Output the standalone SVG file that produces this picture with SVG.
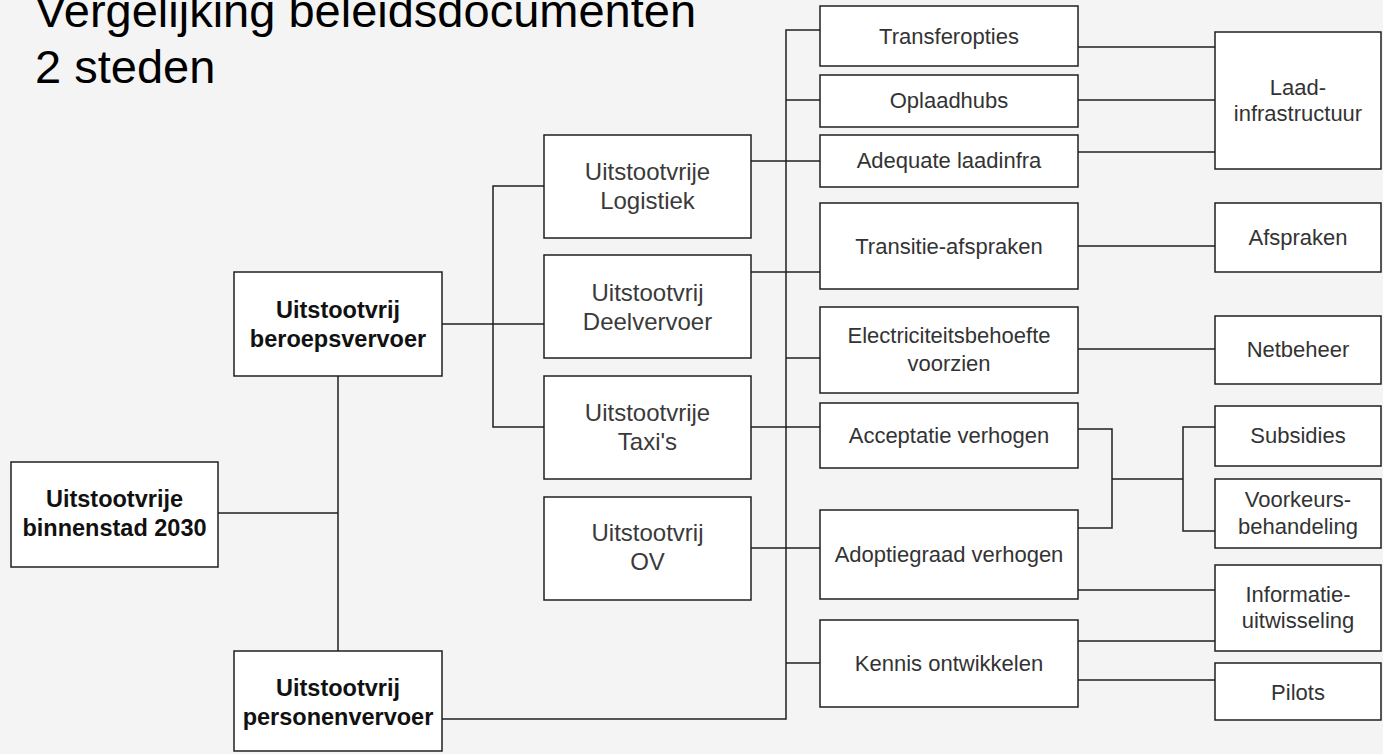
<svg xmlns="http://www.w3.org/2000/svg" width="1383" height="754" viewBox="0 0 1383 754">
<style>
.bg{fill:#f4f4f4}
.box{fill:#ffffff;stroke:#1f1f1f;stroke-width:1.5}
.ln{fill:none;stroke:#1f1f1f;stroke-width:1.5}
.t{font-family:"Liberation Sans",Arial,sans-serif;font-size:22px;fill:#333333;text-anchor:middle}
.tm{font-family:"Liberation Sans",Arial,sans-serif;font-size:24px;fill:#3a3a3a;text-anchor:middle}
.tb{font-family:"Liberation Sans",Arial,sans-serif;font-size:23.5px;font-weight:bold;fill:#111111;text-anchor:middle}
.title{font-family:"Liberation Sans",Arial,sans-serif;font-size:47px;fill:#000000}
</style>
<rect class="bg" x="0" y="0" width="1383" height="754"/>
<g id="title">
<text class="title" x="35" y="27">Vergelijking beleidsdocumenten</text>
<text class="title" x="35" y="83">2 steden</text>
</g>
<g id="connectors">
<path class="ln" d="M218,513 H338"/>
<path class="ln" d="M338,376 V651"/>
<path class="ln" d="M442,324 H544"/>
<path class="ln" d="M544,186 H493 V427 H544"/>
<path class="ln" d="M751,161 H820"/>
<path class="ln" d="M751,272 H820"/>
<path class="ln" d="M751,427 H820"/>
<path class="ln" d="M751,548 H820"/>
<path class="ln" d="M442,719 H786 V30 H820"/>
<path class="ln" d="M786,100 H820"/>
<path class="ln" d="M786,358 H820"/>
<path class="ln" d="M786,663 H820"/>
<path class="ln" d="M1078,47 H1215"/>
<path class="ln" d="M1078,100 H1215"/>
<path class="ln" d="M1078,152 H1215"/>
<path class="ln" d="M1078,246 H1215"/>
<path class="ln" d="M1078,349 H1215"/>
<path class="ln" d="M1078,429 H1112 V528 H1078"/>
<path class="ln" d="M1112,479 H1183"/>
<path class="ln" d="M1215,427 H1183 V531 H1215"/>
<path class="ln" d="M1078,590 H1215"/>
<path class="ln" d="M1078,641 H1215"/>
<path class="ln" d="M1078,680 H1215"/>
</g>
<g id="n-binnenstad"><rect class="box" x="11" y="462" width="207" height="105"/><text class="tb" x="114.5" y="507">Uitstootvrije</text><text class="tb" x="114.5" y="536">binnenstad 2030</text></g>
<g id="n-beroeps"><rect class="box" x="234" y="272" width="208" height="104"/><text class="tb" x="338" y="318">Uitstootvrij</text><text class="tb" x="338" y="347">beroepsvervoer</text></g>
<g id="n-personen"><rect class="box" x="234" y="651" width="208" height="100"/><text class="tb" x="338" y="696">Uitstootvrij</text><text class="tb" x="338" y="725">personenvervoer</text></g>
<g id="n-logistiek"><rect class="box" x="544" y="135" width="207" height="103"/><text class="tm" x="647.5" y="180">Uitstootvrije</text><text class="tm" x="647.5" y="209">Logistiek</text></g>
<g id="n-deelvervoer"><rect class="box" x="544" y="255" width="207" height="103"/><text class="tm" x="647.5" y="301">Uitstootvrij</text><text class="tm" x="647.5" y="330">Deelvervoer</text></g>
<g id="n-taxis"><rect class="box" x="544" y="376" width="207" height="103"/><text class="tm" x="647.5" y="421">Uitstootvrije</text><text class="tm" x="647.5" y="450">Taxi's</text></g>
<g id="n-ov"><rect class="box" x="544" y="497" width="207" height="103"/><text class="tm" x="647.5" y="541">Uitstootvrij</text><text class="tm" x="647.5" y="570">OV</text></g>
<g id="n-transferopties"><rect class="box" x="820" y="6" width="258" height="60"/><text class="t" x="949" y="44">Transferopties</text></g>
<g id="n-oplaadhubs"><rect class="box" x="820" y="75" width="258" height="52"/><text class="t" x="949" y="107.5">Oplaadhubs</text></g>
<g id="n-adequate"><rect class="box" x="820" y="135" width="258" height="52"/><text class="t" x="949" y="167.5">Adequate laadinfra</text></g>
<g id="n-transitie"><rect class="box" x="820" y="203" width="258" height="86"/><text class="t" x="949" y="254">Transitie-afspraken</text></g>
<g id="n-electriciteit"><rect class="box" x="820" y="307" width="258" height="86"/><text class="t" x="949" y="343">Electriciteitsbehoefte</text><text class="t" x="949" y="370.5">voorzien</text></g>
<g id="n-acceptatie"><rect class="box" x="820" y="403" width="258" height="65"/><text class="t" x="949" y="443">Acceptatie verhogen</text></g>
<g id="n-adoptie"><rect class="box" x="820" y="510" width="258" height="89"/><text class="t" x="949" y="561.5">Adoptiegraad verhogen</text></g>
<g id="n-kennis"><rect class="box" x="820" y="620" width="258" height="87"/><text class="t" x="949" y="670.5">Kennis ontwikkelen</text></g>
<g id="n-laad"><rect class="box" x="1215" y="32" width="166" height="137"/><text class="t" x="1298" y="95">Laad-</text><text class="t" x="1298" y="120.5">infrastructuur</text></g>
<g id="n-afspraken"><rect class="box" x="1215" y="203" width="166" height="69"/><text class="t" x="1298" y="245">Afspraken</text></g>
<g id="n-netbeheer"><rect class="box" x="1215" y="316" width="166" height="68"/><text class="t" x="1298" y="356.5">Netbeheer</text></g>
<g id="n-subsidies"><rect class="box" x="1215" y="406" width="166" height="60"/><text class="t" x="1298" y="442.5">Subsidies</text></g>
<g id="n-voorkeurs"><rect class="box" x="1215" y="479" width="166" height="69"/><text class="t" x="1298" y="506.5">Voorkeurs-</text><text class="t" x="1298" y="534">behandeling</text></g>
<g id="n-informatie"><rect class="box" x="1215" y="565" width="166" height="86"/><text class="t" x="1298" y="601.5">Informatie-</text><text class="t" x="1298" y="628">uitwisseling</text></g>
<g id="n-pilots"><rect class="box" x="1215" y="663" width="166" height="57"/><text class="t" x="1298" y="700">Pilots</text></g>
</svg>
